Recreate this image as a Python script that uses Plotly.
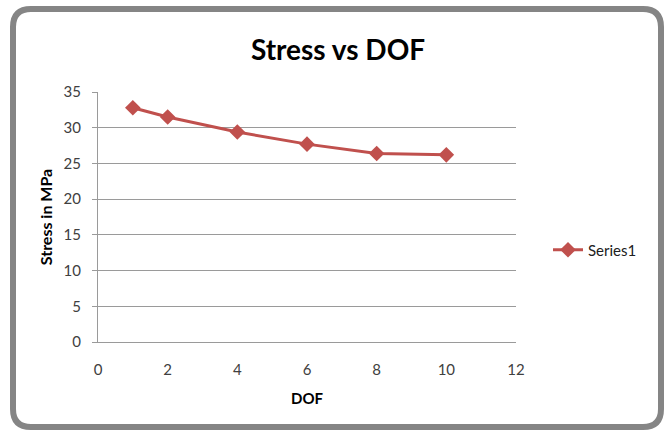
import plotly.graph_objects as go

# DOF vs. stress readings
dof = [1, 2, 4, 6, 8, 10]
stress_mpa = [32.8, 31.5, 29.4, 27.7, 26.4, 26.2]
series_name = "Series1"

x_ticks = [0, 2, 4, 6, 8, 10, 12]
y_ticks = [0, 5, 10, 15, 20, 25, 30, 35]

W, H = 669, 432
ML, MR, MT, MB = 98, 153, 92, 90
PW, PH = W - ML - MR, H - MT - MB

FONT = "Lato, 'Open Sans', sans-serif"
LINE_RED = "#C0504D"
GRID = "#9A9A9A"

fig = go.Figure()
fig.add_trace(go.Scatter(
    x=dof, y=stress_mpa, name=series_name, mode="lines+markers",
    line=dict(color=LINE_RED, width=3),
    marker=dict(symbol="diamond", size=12, color=LINE_RED),
    showlegend=True,
))


def px_to_paper(px, py):
    return (px - ML) / PW, (H - MB - py) / PH


# rounded outer frame, expressed in paper coordinates
x0, y0, x1, y1, r = 13, 9, 661, 427, 18
def P(px, py):
    a, b = px_to_paper(px, py)
    return f"{a:.5f},{b:.5f}"
path = (
    f"M {P(x0 + r, y0)} L {P(x1 - r, y0)} Q {P(x1, y0)} {P(x1, y0 + r)} "
    f"L {P(x1, y1 - r)} Q {P(x1, y1)} {P(x1 - r, y1)} "
    f"L {P(x0 + r, y1)} Q {P(x0, y1)} {P(x0, y1 - r)} "
    f"L {P(x0, y0 + r)} Q {P(x0, y0)} {P(x0 + r, y0)} Z"
)
fig.add_shape(type="path", path=path, xref="paper", yref="paper",
              line=dict(color="#858585", width=6), layer="below")

fig.update_layout(
    width=W, height=H,
    margin=dict(l=ML, r=MR, t=MT, b=MB),
    paper_bgcolor="white", plot_bgcolor="white",
    font=dict(family=FONT, color="#404040", size=15),
    title=dict(text="<b>Stress vs DOF</b>", x=338 / W, xanchor="center",
               y=1 - 50 / H, yanchor="middle",
               font=dict(size=28, color="black", family=FONT)),
    xaxis=dict(
        range=[0, 12], tickvals=x_ticks, showgrid=False, zeroline=False,
        showline=True, linecolor=GRID, linewidth=1,
        ticks="", ticklabelstandoff=14,
        tickfont=dict(size=15, color="#404040"),
        title=dict(text="<b>DOF</b>", font=dict(size=15, color="black"), standoff=16),
    ),
    yaxis=dict(
        range=[0, 35], tickvals=y_ticks, showgrid=True, gridcolor=GRID, gridwidth=1,
        zeroline=False, showline=True, linecolor=GRID, linewidth=1,
        ticks="outside", ticklen=5, tickcolor=GRID, ticklabelstandoff=8,
        tickfont=dict(size=15, color="#404040"),
        title=dict(text="<b>Stress in MPa</b>", font=dict(size=16, color="black"), standoff=6),
    ),
    legend=dict(x=(548 - ML) / PW, xanchor="left", y=(H - MB - 250) / PH, yanchor="middle",
                font=dict(size=15, color="#202020"), bgcolor="rgba(0,0,0,0)",
                itemwidth=30),
)

fig.write_html("out.html")
